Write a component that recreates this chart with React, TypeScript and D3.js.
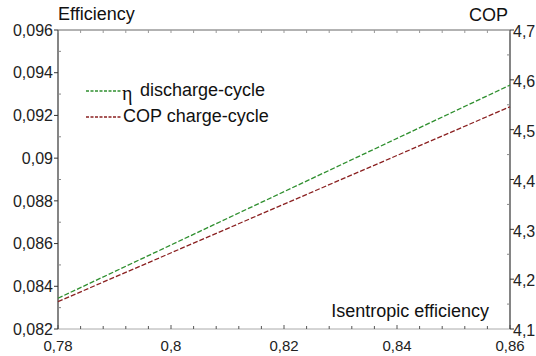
import React from "react";
import * as d3 from "d3";

const xValues = [0.78, 0.86];
const etaDischarge = [0.08344, 0.09342];
const copCharge = [4.155, 4.546];

const xTicks = [0.78, 0.8, 0.82, 0.84, 0.86];
const leftTicks = [0.082, 0.084, 0.086, 0.088, 0.09, 0.092, 0.094, 0.096];
const rightTicks = [4.1, 4.2, 4.3, 4.4, 4.5, 4.6, 4.7];

const W = 536, H = 356;
const M = { left: 58, right: 26, top: 30, bottom: 27 };

const fmt = (v: number) => String(+v.toFixed(4)).replace(".", ",");

export default function App() {
  const x = d3.scaleLinear().domain([0.78, 0.86]).range([M.left, W - M.right]);
  const yL = d3.scaleLinear().domain([0.082, 0.096]).range([H - M.bottom, M.top]);
  const yR = d3.scaleLinear().domain([4.1, 4.7]).range([H - M.bottom, M.top]);
  const x0 = M.left, x1 = W - M.right, y0 = H - M.bottom, y1 = M.top;

  const lineL = d3.line<number>().x((_, i) => x(xValues[i])).y((d) => yL(d));
  const lineR = d3.line<number>().x((_, i) => x(xValues[i])).y((d) => yR(d));

  const xMinor = d3.range(0, 21).map((i) => 0.78 + i * 0.004);
  const leftMinor = d3.range(0, 7).map((i) => 0.083 + i * 0.002);
  const rightMinor = d3.range(0, 6).map((i) => 4.15 + i * 0.1);

  const font = "Liberation Sans, Arial, sans-serif";
  const green = "#2f8f2f";
  const red = "#8a2020";
  const axisCol = "#333";

  return (
    <svg width={W} height={H} style={{ position: "absolute", left: 0, top: 0, background: "#fff" }} fontFamily={font}>
      {/* frame */}
      <line x1={x0} x2={x1} y1={y1} y2={y1} stroke="#666" strokeWidth={1} />
      <line x1={x0} x2={x1} y1={y0} y2={y0} stroke="#aaa" strokeWidth={1} />
      <line x1={x0} x2={x0} y1={y1} y2={y0} stroke={axisCol} strokeWidth={1.2} />
      <line x1={x1} x2={x1} y1={y1} y2={y0} stroke={axisCol} strokeWidth={1.2} />

      {/* x ticks */}
      {xMinor.map((v, i) => (
        <g key={"xm" + i}>
          <line x1={x(v)} x2={x(v)} y1={y0} y2={y0 - (i % 5 === 0 ? 4 : 3)} stroke="#555" strokeWidth={1} />
          <line x1={x(v)} x2={x(v)} y1={y1} y2={y1 + 3} stroke="#999" strokeWidth={1} />
        </g>
      ))}
      {xTicks.map((v) => (
        <text key={"xt" + v} x={x(v)} y={351} textAnchor="middle" fontSize={15} fill="#222">
          {fmt(v)}
        </text>
      ))}

      {/* left ticks */}
      {leftTicks.map((v) => (
        <g key={"lt" + v}>
          <line x1={x0 - 4} x2={x0} y1={yL(v)} y2={yL(v)} stroke={axisCol} strokeWidth={1} />
          <text x={53} y={yL(v)} dy="0.36em" textAnchor="end" fontSize={16} fill="#222">
            {fmt(v)}
          </text>
        </g>
      ))}
      {leftMinor.map((v) => (
        <line key={"lm" + v} x1={x0} x2={x0 + 3} y1={yL(v)} y2={yL(v)} stroke="#888" strokeWidth={1} />
      ))}

      {/* right ticks */}
      {rightTicks.map((v) => (
        <g key={"rt" + v}>
          <line x1={x1} x2={x1 + 4} y1={yR(v)} y2={yR(v)} stroke={axisCol} strokeWidth={1} />
          <text x={513} y={yR(v)} dy="0.45em" textAnchor="start" fontSize={16} fill="#222">
            {fmt(v)}
          </text>
        </g>
      ))}
      {rightMinor.map((v) => (
        <line key={"rm" + v} x1={x1 - 3} x2={x1} y1={yR(v)} y2={yR(v)} stroke="#888" strokeWidth={1} />
      ))}

      {/* data lines */}
      <path d={lineL(etaDischarge) || ""} fill="none" stroke={green} strokeWidth={1.3} strokeDasharray="5,2" />
      <path d={lineR(copCharge) || ""} fill="none" stroke={red} strokeWidth={1.3} strokeDasharray="5,2" />

      {/* titles */}
      <text x={58} y={20} fontSize={18} fill="#111">Efficiency</text>
      <text x={508} y={21} fontSize={18} fill="#111" textAnchor="end">COP</text>
      <text x={489} y={317} fontSize={18} fill="#111" textAnchor="end">Isentropic efficiency</text>

      {/* legend */}
      <line x1={86} x2={121} y1={91} y2={91} stroke={green} strokeWidth={1.3} strokeDasharray="3,1.5" />
      <text x={122} y={100} fontSize={20} fill="#111" fontFamily="Liberation Serif, serif">η</text>
      <text x={140} y={96} fontSize={18} fill="#111">discharge-cycle</text>
      <line x1={86} x2={122} y1={117} y2={117} stroke={red} strokeWidth={1.3} strokeDasharray="3,1.5" />
      <text x={123} y={122} fontSize={18} fill="#111">COP charge-cycle</text>
    </svg>
  );
}
